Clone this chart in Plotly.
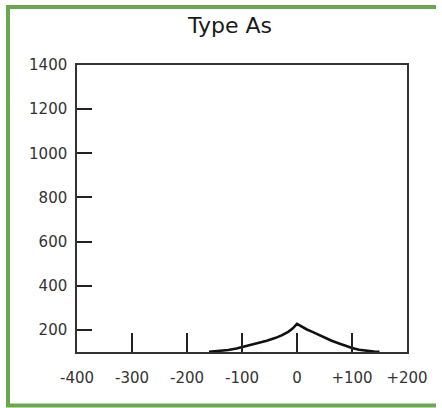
import plotly.graph_objects as go

# Data
x_vals = [-160, -140, -125, -110, -100, -85, -70, -55, -40, -28, -16, -8, 0,
          8, 18, 28, 40, 50, 62, 74, 87, 100, 113, 126, 140, 150]
y_vals = [101, 104, 109, 116, 122, 131, 141, 151, 163, 175, 191, 206, 227,
          215, 202, 191, 176, 164, 152, 141, 129, 118, 110, 105, 102, 101]

x_tickvals = [-400, -300, -200, -100, 0, 100, 200]
x_ticktext = ["-400", "-300", "-200", "-100", "0", "+100", "+200"]
y_tickvals = [200, 400, 600, 800, 1000, 1200, 1400]
y_ticktext = ["200", "400", "600", "800", "1000", "1200", "1400"]

W, H = 442, 408
L, R, T, B = 77, 35, 65, 56
pw, ph = W - L - R, H - T - B

fig = go.Figure()
fig.add_trace(go.Scatter(
    x=x_vals, y=y_vals, mode="lines",
    line=dict(color="#111111", width=2.6),
    showlegend=False, hoverinfo="skip",
))

def px_to_paper_x(px):
    return (px - L) / pw

def py_to_paper_y(py):
    return (H - B - py) / ph

GREEN = "#6aa84f"
xl, xr = px_to_paper_x(8), px_to_paper_x(436)
yt, yb = py_to_paper_y(7), py_to_paper_y(405.5)
for (x0, y0, x1, y1) in [(xl, yb, xl, yt), (px_to_paper_x(6), yt, xr, yt),
                         (px_to_paper_x(6), yb, xr, yb)]:
    fig.add_shape(type="line", xref="paper", yref="paper",
                  x0=x0, y0=y0, x1=x1, y1=y1,
                  line=dict(color=GREEN, width=4), layer="above")

FONT = "DejaVu Sans, Liberation Sans, Arial, sans-serif"

fig.update_layout(
    width=W, height=H,
    margin=dict(l=L, r=R, t=T, b=B),
    paper_bgcolor="white", plot_bgcolor="white",
    font=dict(family=FONT, color="#333333", size=15),
    title=dict(
        text="Type As", x=230 / W, xanchor="center",
        y=1 - 25 / H, yanchor="middle",
        font=dict(size=22, color="#1a1a1a", family=FONT),
    ),
    xaxis=dict(
        range=[-400, 200], tickvals=x_tickvals, ticktext=x_ticktext,
        ticks="inside", ticklen=19, tickwidth=1.8, tickcolor="#222222",
        showline=True, linecolor="#333333", linewidth=1.5, mirror=True,
        showgrid=False, zeroline=False, ticklabelstandoff=11,
        tickfont=dict(size=15, color="#333333", family=FONT),
    ),
    yaxis=dict(
        range=[100, 1400], tickvals=y_tickvals, ticktext=y_ticktext,
        ticks="inside", ticklen=15, tickwidth=1.8, tickcolor="#222222",
        showline=True, linecolor="#333333", linewidth=1.5, mirror=True,
        showgrid=False, zeroline=False, ticklabelstandoff=5,
        tickfont=dict(size=15, color="#333333", family=FONT),
    ),
)

fig.write_html("out.html", config={"displayModeBar": False},
               post_script="document.body.style.margin='0';")
